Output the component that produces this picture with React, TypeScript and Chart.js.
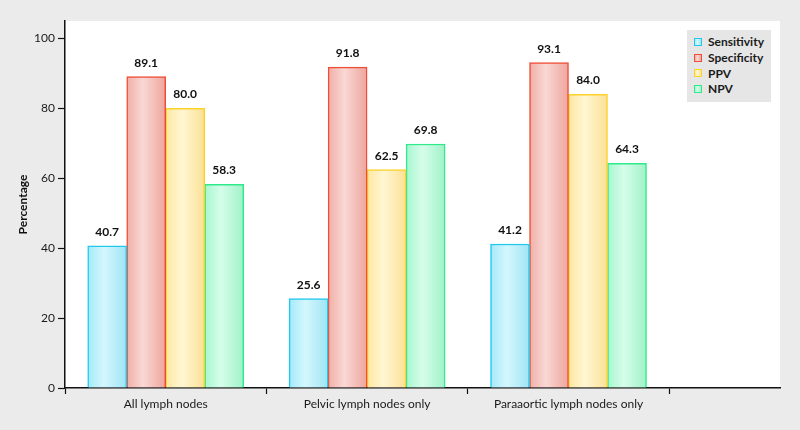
import React, { useEffect, useRef } from "react";
import { Chart, registerables } from "chart.js";

Chart.register(...registerables);

const categories = ["All lymph nodes", "Pelvic lymph nodes only", "Paraaortic lymph nodes only"];
const seriesNames = ["Sensitivity", "Specificity", "PPV", "NPV"];
const sensitivity = [40.7, 25.6, 41.2];
const specificity = [89.1, 91.8, 93.1];
const ppv = [80.0, 62.5, 84.0];
const npv = [58.3, 69.8, 64.3];
const yTicks = [0, 20, 40, 60, 80, 100];
const boundaryTicks = [-0.5, 0.5, 1.5, 2.5];

const seriesValues = [sensitivity, specificity, ppv, npv];
const borderColors = ["#22c7ee", "#ee4e38", "#fdd22a", "#2eea8b"];
const edgeColors = ["#a4eafa", "#f1afa7", "#fde7a2", "#a6f7cf"];
const edgeDark = ["#9fe4f4", "#eea59c", "#fbe196", "#9ff2c8"];
const lightColors = ["#d4f7fe", "#f9d8d5", "#fff6d2", "#d6fdea"];

const FONT = "Lato, 'Noto Sans', sans-serif";

export default function App() {
  const ref = useRef<HTMLCanvasElement | null>(null);

  useEffect(() => {
    if (!ref.current) return;

    const plotBg = {
      id: "plotBg",
      beforeDraw(chart: any) {
        const { ctx, chartArea } = chart;
        ctx.save();
        ctx.fillStyle = "#ffffff";
        ctx.fillRect(chartArea.left, chartArea.top, chartArea.right - chartArea.left, chartArea.bottom - chartArea.top);
        ctx.restore();
      },
    };

    const gradientBars = {
      id: "gradientBars",
      beforeDatasetsDraw(chart: any) {
        const ctx = chart.ctx;
        chart.data.datasets.forEach((ds: any, di: number) => {
          const meta = chart.getDatasetMeta(di);
          meta.data.forEach((el: any) => {
            const l = el.x - el.width / 2;
            const r = el.x + el.width / 2;
            const g = ctx.createLinearGradient(l, 0, r, 0);
            g.addColorStop(0, edgeColors[di]);
            g.addColorStop(0.42, lightColors[di]);
            g.addColorStop(1, edgeDark[di]);
            el.options = Object.assign({}, el.options, { backgroundColor: g });
          });
        });
      },
    };

    const valueLabels = {
      id: "valueLabels",
      afterDatasetsDraw(chart: any) {
        const ctx = chart.ctx;
        ctx.save();
        ctx.font = `bold 12px ${FONT}`;
        ctx.fillStyle = "#111";
        ctx.textAlign = "center";
        ctx.textBaseline = "alphabetic";
        chart.data.datasets.forEach((ds: any, di: number) => {
          const meta = chart.getDatasetMeta(di);
          meta.data.forEach((el: any, i: number) => {
            ctx.fillText(ds.data[i].y.toFixed(1), el.x, el.y - 10);
          });
        });
        ctx.restore();
      },
    };

    const chart = new Chart(ref.current, {
      type: "bar",
      data: {
        datasets: seriesNames.map((name, di) => ({
          label: name,
          data: seriesValues[di].map((v, i) => ({ x: i, y: v })),
          borderColor: borderColors[di],
          backgroundColor: edgeColors[di],
          borderWidth: 1.5,
          borderSkipped: "bottom",
          barThickness: 39,
        })),
      },
      options: {
        animation: false,
        responsive: false,
        maintainAspectRatio: false,
        layout: { padding: { top: 21, right: 20, left: 0, bottom: 0 } },
        plugins: {
          legend: { display: false },
          tooltip: { enabled: false },
        },
        scales: {
          x: {
            type: "linear",
            min: -0.5,
            max: 3.05,
            offset: false,
            afterFit(scale: any) {
              scale.height = 42;
            },
            afterBuildTicks(scale: any) {
              const vals = [...boundaryTicks, ...categories.map((_, i) => i)].sort((a, b) => a - b);
              scale.ticks = vals.map((v) => ({ value: v }));
            },
            ticks: {
              autoSkip: false,
              maxRotation: 0,
              minRotation: 0,
              padding: 3,
              color: "#1a1a1a",
              font: { family: FONT, size: 12 },
              callback: (v: any) => (Number.isInteger(v) ? categories[v] : ""),
            },
            grid: {
              display: true,
              offset: false,
              drawOnChartArea: false,
              drawTicks: true,
              tickLength: 6,
              tickWidth: 1.2,
              tickColor: (c: any) => (c.tick && Number.isInteger(c.tick.value) ? "rgba(0,0,0,0)" : "#111"),
            },
            border: { display: true, color: "#111", width: 1.5 },
          },
          y: {
            min: 0,
            max: 105,
            afterFit(scale: any) {
              scale.width = 65;
            },
            afterBuildTicks(scale: any) {
              scale.ticks = yTicks.map((v) => ({ value: v }));
            },
            ticks: {
              padding: 3,
              color: "#1a1a1a",
              font: { family: FONT, size: 12 },
            },
            grid: {
              display: true,
              drawOnChartArea: false,
              drawTicks: true,
              tickLength: 7,
              tickWidth: 1.2,
              tickColor: "#111",
            },
            border: { display: true, color: "#111", width: 1.5 },
            title: {
              display: true,
              text: "Percentage",
              color: "#111",
              font: { family: FONT, size: 12, weight: "bold" },
              padding: { top: 16, bottom: 0 },
            },
          },
        },
      },
      plugins: [plotBg, gradientBars, valueLabels],
    } as any);

    return () => chart.destroy();
  }, []);

  return (
    <div style={{ position: "fixed", left: 0, top: 0, width: 800, height: 430, background: "#ebebeb", overflow: "hidden" }}>
      <canvas ref={ref} width={800} height={430} style={{ position: "absolute", left: 0, top: 0, width: 800, height: 430 }} />
      <div
        style={{
          position: "absolute",
          left: 687,
          top: 30,
          width: 84,
          height: 72,
          background: "#e6e6e6",
          boxSizing: "border-box",
          paddingTop: 4,
          paddingLeft: 7,
          fontFamily: FONT,
          fontWeight: "bold",
          fontSize: 12,
          color: "#1a1a1a",
        }}
      >
        {seriesNames.map((name, di) => (
          <div key={name} style={{ display: "flex", alignItems: "center", height: 15.7 }}>
            <span
              style={{
                display: "inline-block",
                width: 8,
                height: 8,
                boxSizing: "border-box",
                border: `1.5px solid ${borderColors[di]}`,
                background: `linear-gradient(to right, ${edgeColors[di]}, ${lightColors[di]} 42%, ${edgeDark[di]})`,
                marginRight: 6,
              }}
            />
            <span>{name}</span>
          </div>
        ))}
      </div>
    </div>
  );
}
